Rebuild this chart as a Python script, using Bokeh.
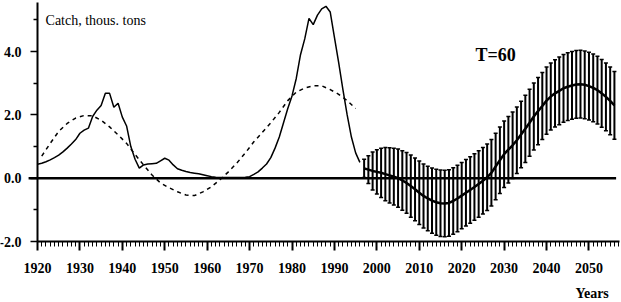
from bokeh.plotting import figure
from bokeh.models import (ColumnDataSource, Range1d, FixedTicker, Label,
                          Whisker, TeeHead)
from bokeh.embed import file_html
from bokeh.resources import INLINE

# ---- data ----
catch_years = list(range(1920, 1997))
catch_vals = [0.44, 0.47, 0.52, 0.58, 0.65, 0.73, 0.83, 0.95, 1.08, 1.22,
              1.42, 1.52, 1.58, 1.95, 2.15, 2.30, 2.68, 2.68, 2.24, 2.37,
              1.93, 1.65, 1.00, 0.60, 0.32, 0.42, 0.45, 0.46, 0.47, 0.55,
              0.63, 0.57, 0.42, 0.30, 0.25, 0.21, 0.18, 0.16, 0.14, 0.11,
              0.08, 0.05, 0.03, 0.02, 0.02, 0.02, 0.02, 0.02, 0.02, 0.03,
              0.05, 0.12, 0.20, 0.32, 0.45, 0.65, 0.95, 1.30, 1.75, 2.20,
              2.60, 3.15, 3.90, 4.40, 5.05, 4.85, 5.15, 5.35, 5.43, 5.25,
              4.45, 3.65, 2.80, 2.00, 1.30, 0.80, 0.50]

model_years = [1921, 1923, 1925, 1927, 1929, 1931, 1933, 1935, 1937, 1939,
               1941, 1943, 1945, 1947, 1949, 1951, 1953, 1955, 1957, 1959,
               1961, 1963, 1965, 1967, 1969, 1971, 1973, 1975, 1977, 1979,
               1981, 1983, 1985, 1987, 1989, 1991, 1993, 1995]
model_vals = [0.70, 1.10, 1.48, 1.73, 1.90, 1.98, 1.97, 1.83, 1.62, 1.37,
              1.10, 0.75, 0.42, 0.10, -0.15, -0.30, -0.43, -0.53, -0.55, -0.43,
              -0.27, -0.05, 0.20, 0.48, 0.80, 1.15, 1.45, 1.75, 2.08, 2.45,
              2.72, 2.85, 2.92, 2.92, 2.80, 2.65, 2.45, 2.20]

fc_years = list(range(1997, 2057))
fc_mean = [0.31, 0.27, 0.23, 0.20, 0.17, 0.13, 0.09, 0.05, 0.00, -0.07,
           -0.15, -0.25, -0.35, -0.46, -0.56, -0.64, -0.71, -0.76, -0.79, -0.80,
           -0.78, -0.72, -0.64, -0.55, -0.46, -0.37, -0.28, -0.18, -0.08, 0.03,
           0.17, 0.37, 0.57, 0.76, 0.90, 1.04, 1.20, 1.38, 1.56, 1.75,
           1.95, 2.12, 2.28, 2.45, 2.58, 2.68, 2.76, 2.84, 2.89, 2.93,
           2.96, 2.97, 2.95, 2.91, 2.85, 2.78, 2.68, 2.57, 2.44, 2.30]
fc_err = [0.29, 0.44, 0.60, 0.70, 0.78, 0.84, 0.87, 0.90, 0.92, 0.94,
          0.96, 0.98, 0.99, 1.00, 1.01, 1.02, 1.03, 1.04, 1.05, 1.05,
          1.05, 1.05, 1.05, 1.05, 1.05, 1.05, 1.05, 1.05, 1.05, 1.05,
          1.05, 1.05, 1.05, 1.05, 1.05, 1.05, 1.05, 1.05, 1.06, 1.06,
          1.06, 1.06, 1.06, 1.06, 1.06, 1.06, 1.07, 1.07, 1.07, 1.07,
          1.07, 1.07, 1.07, 1.07, 1.07, 1.07, 1.07, 1.07, 1.07, 1.07]

x_ticks = [1920, 1930, 1940, 1950, 1960, 1970, 1980, 1990, 2000, 2010, 2020, 2030, 2040, 2050]
x_minor = list(range(1920, 2058))
y_ticks = [-2.0, 0.0, 2.0, 4.0]
y_minor = [-1.0, 1.0, 3.0, 5.0]
y_tick_labels = ["-2.0", "0.0", "2.0", "4.0"]

FONT = "Liberation Serif"

# the frame covers the whole canvas; axes sit at fixed data locations inside it
p = figure(width=621, height=302, output_backend="svg", toolbar_location=None,
           x_range=Range1d(1911.28, 2057.67), y_range=Range1d(-3.926, 5.613),
           min_border=0, min_border_left=0, min_border_right=0,
           min_border_top=0, min_border_bottom=0,
           background_fill_color="white", border_fill_color="white")
p.outline_line_color = None
p.xgrid.visible = False
p.ygrid.visible = False

# x axis
xa = p.xaxis[0]
xa.fixed_location = -2.0
xa.ticker = FixedTicker(ticks=x_ticks, minor_ticks=x_minor)
xa.bounds = (1920, 2057.2)
xa.axis_line_width = 2
xa.axis_line_color = "black"
xa.major_tick_out = 9
xa.major_tick_in = 0
xa.minor_tick_out = 5
xa.minor_tick_in = 0
xa.major_tick_line_width = 2
xa.minor_tick_line_width = 1
xa.major_label_text_font = FONT
xa.major_label_text_font_style = "bold"
xa.major_label_text_font_size = "14px"
xa.major_label_text_color = "black"
xa.major_label_standoff = 12

# y axis
ya = p.yaxis[0]
ya.fixed_location = 1920
ya.ticker = FixedTicker(ticks=y_ticks, minor_ticks=y_minor)
ya.major_label_overrides = {v: s for v, s in zip(y_ticks, y_tick_labels)}
ya.bounds = (-2.0, 5.55)
ya.axis_line_width = 2
ya.axis_line_color = "black"
ya.major_tick_out = 7
ya.major_tick_in = 0
ya.minor_tick_out = 4
ya.minor_tick_in = 0
ya.major_tick_line_width = 1.5
ya.minor_tick_line_width = 1.5
ya.major_label_text_font = FONT
ya.major_label_text_font_style = "bold"
ya.major_label_text_font_size = "14px"
ya.major_label_text_color = "black"
ya.major_label_standoff = 9

# zero line (slightly overhanging the y axis, as in the original)
p.segment(x0=[1917.9], y0=[0], x1=[2056.4], y1=[0], line_color="black", line_width=2.5)

# observed catch
p.line(catch_years, catch_vals, line_color="black", line_width=1.5)
# model (dashed)
p.line(model_years, model_vals, line_color="black", line_width=1.5, line_dash="4 4")

# forecast with error bars
src = ColumnDataSource(dict(
    x=fc_years, mean=fc_mean,
    upper=[m + e for m, e in zip(fc_mean, fc_err)],
    lower=[m - e for m, e in zip(fc_mean, fc_err)],
))
w = Whisker(source=src, base="x", upper="upper", lower="lower",
            line_color="black", line_width=2,
            upper_head=TeeHead(size=4, line_width=1.5, line_color="black"),
            lower_head=TeeHead(size=4, line_width=1.5, line_color="black"))
p.add_layout(w)
p.line("x", "mean", source=src, line_color="black", line_width=2.5)

# texts
p.add_layout(Label(x=1921.9, y=4.97, text="Catch, thous. tons", text_font=FONT,
                   text_font_size="14px", text_color="black", text_baseline="alphabetic"))
p.add_layout(Label(x=2023.25, y=3.88, text="T=60", text_font=FONT, text_font_style="bold",
                   text_font_size="18px", text_color="black", text_baseline="alphabetic"))
p.add_layout(Label(x=2046.8, y=-3.64, text="Years", text_font=FONT, text_font_style="bold",
                   text_font_size="14px", text_color="black", text_baseline="alphabetic"))

open("out.html", "w").write(file_html(p, INLINE))
